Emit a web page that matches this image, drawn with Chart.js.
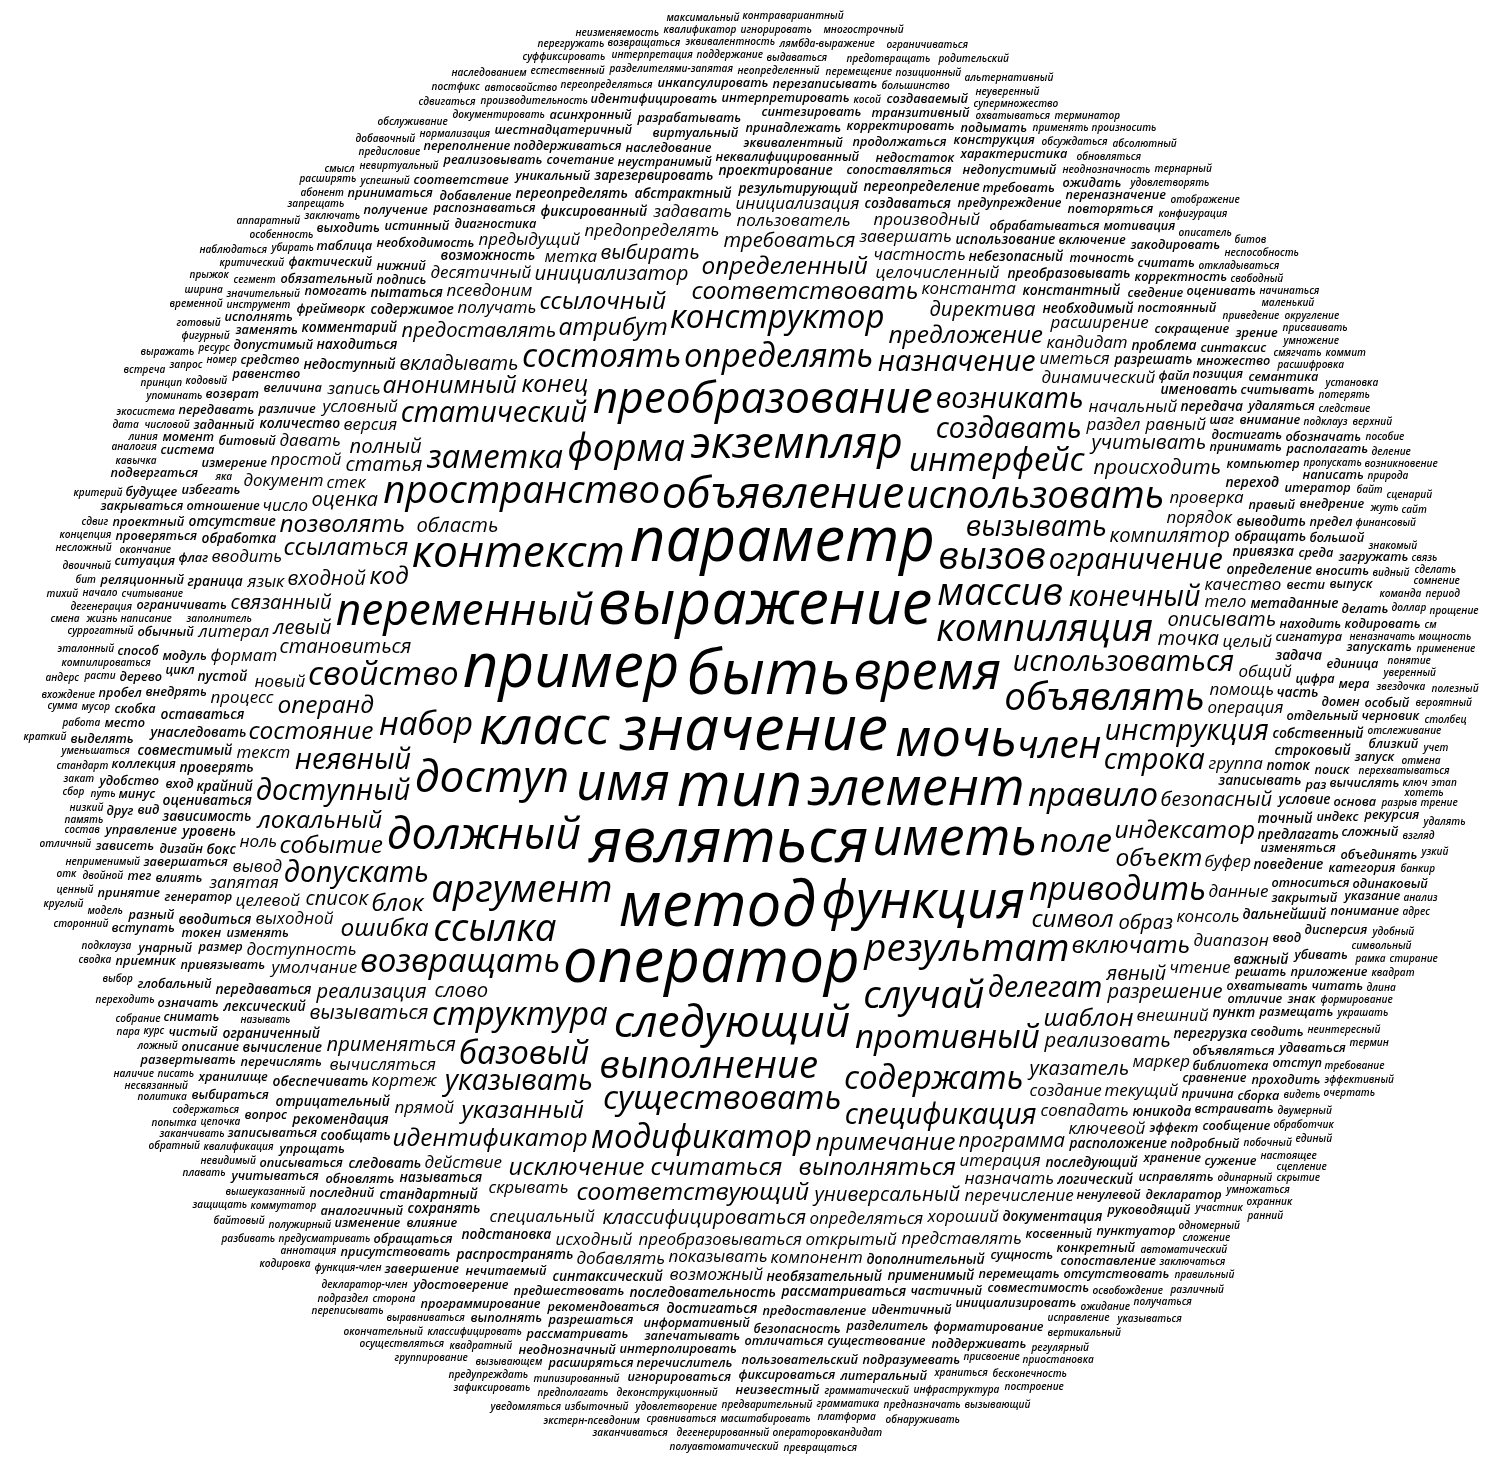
<!DOCTYPE html>
<html>
<head>
<meta charset="utf-8">
<script src="https://cdn.jsdelivr.net/npm/chart.js@4.4.1/dist/chart.umd.min.js"></script>
<style>
  html, body { margin: 0; padding: 0; background: #fff; }
  #wrap { width: 1504px; height: 1462px; }
</style>
</head>
<body>
<div id="wrap"><canvas id="cloud" width="1504" height="1462"></canvas></div>
<script>
// Word cloud: words grouped by frequency tier, laid out on a spiral, drawn through a scatter chart

// relative frequency of each tier (biggest first)
const tierWeights = [100, 82, 67, 56, 46, 38, 30, 22, 16, 10, 8, 3];

const tier1 = ['значение', 'тип', 'быть', 'являться', 'выражение', 'метод', 'параметр', 'пример', 'оператор'];
const tier2 = ['элемент', 'имя', 'время', 'функция', 'класс', 'мочь', 'иметь'];
const tier3 = ['объявление', 'экземпляр', 'следующий', 'переменный', 'преобразование', 'доступ', 'должный', 'контекст'];
const tier4 = ['аргумент', 'результат', 'компиляция', 'массив', 'пространство', 'вызов', 'форма', 'случай',
  'выполнение', 'использовать', 'объявлять', 'ссылка', 'член'];
const tier5 = ['противный', 'набор', 'существовать', 'интерфейс', 'правило', 'возвращать', 'структура', 'свойство',
  'определять', 'поле', 'содержать', 'заметка', 'модификатор', 'конструктор', 'приводить', 'базовый', 'состоять'];
const tier6 = ['статический', 'создавать', 'делегат', 'использоваться', 'ограничение', 'конечный', 'неявный',
  'спецификация', 'вызывать', 'доступный', 'указывать', 'допускать', 'строка', 'назначение', 'возникать', 'инструкция'];
const tier7 = ['блок', 'примечание', 'символ', 'конец', 'ошибка', 'атрибут', 'считаться', 'индексатор', 'код', 'операнд',
  'включать', 'соответствовать', 'соответствующий', 'локальный', 'предложение', 'событие', 'состояние', 'указанный',
  'объект', 'ссылаться', 'выполняться', 'шаблон', 'ссылочный', 'определенный', 'идентификатор', 'анонимный',
  'позволять', 'исключение'];
const tier8 = ['компилятор', 'реализация', 'образ', 'инициализатор', 'реализовать', 'входной', 'классифицироваться',
  'вкладывать', 'становиться', 'безопасный', 'список', 'точка', 'статья', 'вызываться', 'слово', 'универсальный',
  'предоставлять', 'область', 'явный', 'применяться', 'указатель', 'происходить', 'полный', 'директива', 'разрешение',
  'оценка', 'программа', 'левый', 'описывать', 'учитывать', 'требоваться', 'связанный', 'выбирать'];
const tier9 = ['создание', 'раздел', 'целочисленный', 'динамический', 'вычисляться', 'новый', 'определяться',
  'доступность', 'преобразовываться', 'выходной', 'получать', 'умолчание', 'операция', 'группа', 'константа', 'помощь',
  'кортеж', 'итерация', 'совпадать', 'начальный', 'версия', 'стек', 'консоль', 'текст', 'иметься', 'предопределять',
  'частность', 'порядок', 'прямой', 'скрывать', 'буфер', 'тело', 'пользователь', 'внешний', 'условный', 'проверка',
  'чтение', 'открытый', 'назначать', 'псевдоним', 'кандидат', 'процесс', 'данные', 'целевой', 'качество', 'целый',
  'метка', 'действие', 'завершать', 'специальный', 'показывать', 'формат', 'диапазон', 'простой', 'задавать', 'ноль',
  'вывод', 'общий', 'язык', 'компонент', 'хороший', 'исходный', 'инициализация', 'перечисление', 'десятичный',
  'расширение', 'литерал', 'равный', 'производный', 'ключевой', 'документ', 'текущий', 'запятая', 'маркер', 'число',
  'запись', 'предыдущий', 'добавлять', 'давать', 'возможный', 'вводить', 'представлять'];
const tier10 = ['определение', 'необходимый', 'абстрактный', 'результирующий', 'фиксированный', 'необязательный',
  'проверять', 'записывать', 'константный', 'небезопасный', 'возможность', 'содержимое', 'недоступный', 'крайний',
  'пустой', 'называться', 'дополнительный', 'последующий', 'отрицательный', 'последовательность', 'расположение',
  'преобразовывать', 'оцениваться', 'передаваться', 'оставаться', 'количество', 'унаследовать', 'разрешать',
  'зависимость', 'обеспечивать', 'использование', 'создаваться', 'обработка', 'перегрузка', 'точный', 'привязка',
  'находиться', 'стандартный', 'подстановка', 'проектирование', 'предлагать', 'синтаксический', 'зарезервировать',
  'метаданные', 'поведение', 'лексический', 'поток', 'ограниченный', 'рекомендация', 'рассматриваться', 'обращать',
  'переопределять', 'отсутствие', 'документация', 'совместимый', 'дальнейший', 'строковый', 'переопределение',
  'собственный', 'распространять', 'пытаться', 'уровень', 'логический', 'юникода', 'часть', 'важный', 'именовать',
  'комментарий', 'выводить', 'вычисление', 'бокс', 'условие', 'следовать', 'задача', 'граница', 'вводиться', 'переход',
  'сообщать', 'сохранять', 'передача', 'применимый', 'проблема', 'достигаться', 'пункт'];
const tier11 = ['сигнатура', 'неквалифицированный', 'изменять', 'неустранимый', 'изменяться', 'диагностика',
  'перечислять', 'охватывать', 'объявляться', 'отдельный', 'предоставление', 'принимать', 'файл', 'обрабатываться',
  'различие', 'решать', 'отношение', 'привязывать', 'ограничивать', 'сопоставляться', 'завершаться', 'относиться',
  'находить', 'предшествовать', 'компьютер', 'распознаваться', 'закрытый', 'правый', 'цифра', 'достигать', 'величина',
  'внедрять', 'предупреждение', 'генератор', 'сравнение', 'необходимость', 'библиотека', 'рекомендоваться', 'подпись',
  'модуль', 'размер', 'отличие', 'измерение', 'ненулевой', 'эффект', 'вести', 'косвенный', 'битовый', 'нечитаемый',
  'причина', 'информативный', 'эквивалентный', 'раз', 'ввод', 'нижний', 'цикл', 'вход', 'наследование', 'сущность',
  'шаг', 'точность', 'уникальный', 'обновлять', 'дизайн', 'влияние', 'безопасность', 'частичный', 'поиск', 'идентичный',
  'сокращение', 'позиция', 'недостаток', 'сочетание', 'виртуальный', 'постоянный', 'фреймворк', 'избегать', 'включение',
  'обычный', 'влиять', 'перемещать', 'флаг', 'токен', 'хранение', 'сведение', 'индекс', 'домен', 'среда', 'запечатывать',
  'принадлежать', 'обращаться', 'добавление', 'равенство', 'продолжаться', 'разрешаться', 'упрощать', 'разделитель',
  'требовать', 'отличаться', 'встраивать', 'поддерживаться', 'множество', 'истинный', 'помогать', 'подробный',
  'коллекция', 'аналогичный', 'недопустимый', 'разрабатывать', 'сводить', 'размещать', 'допустимый', 'единица',
  'средство', 'интерполировать', 'руководящий', 'корректировать', 'синтезировать', 'заданный', 'исправлять', 'убивать',
  'внимание', 'существование', 'удостоверение', 'рассматривать', 'вычислять', 'пользовательский', 'итератор',
  'обязательный', 'конкретный', 'синтаксис', 'инициализировать', 'последний', 'шестнадцатеричный', 'соответствие',
  'совместимость', 'присутствовать', 'программирование', 'корректность', 'реализовывать', 'характеристика',
  'управление', 'записываться', 'дисперсия', 'проверяться', 'основа', 'вносить', 'реляционный', 'приложение',
  'передавать', 'удаляться', 'хранилище', 'сообщение', 'интерпретировать', 'категория', 'пунктуатор', 'мера',
  'описываться', 'перечислитель', 'большой', 'форматирование', 'фактический', 'идентифицировать', 'внедрение',
  'глобальный', 'возврат', 'изменение', 'считывать', 'дерево', 'удобство', 'выпуск', 'декларатор', 'скобка',
  'повторяться', 'завершение', 'сопоставление', 'предел', 'означать', 'способ', 'минус', 'вид', 'вопрос', 'сложный',
  'знак', 'унарный', 'считать', 'выбираться', 'получение', 'заменять', 'описание', 'асинхронный', 'ситуация',
  'выполнять', 'сборка', 'объединять', 'запускать', 'запуск', 'снимать', 'разный', 'конструкция', 'проходить',
  'кодировать', 'фиксироваться', 'делать', 'располагать', 'проектный', 'написать', 'транзитивный', 'неоднозначный',
  'понимание', 'мотивация', 'подразумевать', 'семантика', 'таблица', 'система', 'закодировать', 'место', 'зависеть',
  'игнорироваться', 'переназначение', 'перезаписывать', 'инкапсулировать', 'поддерживать', 'отсутствовать', 'вступать',
  'чистый', 'приниматься', 'развертывать', 'обозначать', 'удаваться', 'учитываться', 'оценивать', 'подвергаться',
  'закрываться', 'загружать', 'черновик', 'пробел', 'исполнять', 'принятие', 'особый', 'переполнение', 'указание',
  'сужение', 'близкий', 'расширяться', 'отступ', 'рекурсия', 'читать', 'момент', 'литеральный', 'ожидать', 'выходить',
  'выделять', 'тег', 'приемник', 'зрение', 'будущее', 'одинаковый', 'друг', 'неизвестный', 'подымать', 'создаваемый'];
const tier12 = ['классифицировать', 'предусматривать', 'считывание', 'приведение', 'деконструкционный', 'значительный',
  'неопределенный', 'разделителями-запятая', 'компилироваться', 'неинтересный', 'пропускать', 'переопределяться',
  'перехватываться', 'квалификация', 'неприменимый', 'формирование', 'производительность', 'написание', 'отслеживание',
  'звездочка', 'суррогатный', 'кодовый', 'уменьшаться', 'подклауз', 'грамматический', 'яка', 'документировать',
  'называть', 'неоднозначность', 'содержаться', 'невиртуальный', 'типизированный', 'инструмент', 'номер', 'дегенерация',
  'заполнитель', 'вышеуказанный', 'предварительный', 'коммутатор', 'автоматический', 'окончание', 'побочный',
  'символьный', 'разрыв', 'декларатор-член', 'уверенный', 'выравниваться', 'неназначать', 'одинарный', 'нормализация',
  'расшифровка', 'числовой', 'успешный', 'полужирный', 'функция-член', 'видеть', 'финансовый', 'квадратный', 'расти',
  'косой', 'путь', 'большинство', 'рамка', 'присвоение', 'цепочка', 'охватываться', 'освобождение', 'исправление',
  'команда', 'перемещение', 'мусор', 'откладываться', 'видный', 'заключать', 'упоминать', 'удовлетворение', 'одномерный',
  'участник', 'понятие', 'двумерный', 'смягчать', 'обсуждаться', 'знакомый', 'вызывающем', 'эталонный', 'ресурс',
  'двойной', 'стандарт', 'сторона', 'ожидание', 'убирать', 'храниться', 'невидимый', 'жизнь', 'обработчик', 'украшать',
  'обновляться', 'выдаваться', 'удобный', 'отмена', 'байт', 'описатель', 'доллар', 'грамматика', 'конфигурация',
  'следствие', 'поддержание', 'работа', 'сегмент', 'фигурный', 'начало', 'ложный', 'низкий', 'супермножество',
  'предполагать', 'писать', 'ключ', 'применять', 'модель', 'переходить', 'вертикальный', 'кавычка', 'умножаться',
  'подклауза', 'позиционный', 'свободный', 'масштабировать', 'предотвращать', 'умножение', 'инфраструктура',
  'интерпретация', 'удовлетворять', 'собрание', 'автосвойство', 'естественный', 'хотеть', 'аннотация', 'курс',
  'предисловие', 'жуть', 'критический', 'настоящее', 'предупреждать', 'особенность', 'память', 'запрос', 'регулярный',
  'сравниваться', 'сложение', 'потерять', 'запрещать', 'взгляд', 'лямбда-выражение', 'экосистема', 'аналогия',
  'заканчивать', 'требование', 'вхождение', 'закат', 'избыточный', 'состав', 'заключаться', 'банкир', 'неуверенный',
  'двоичный', 'платформа', 'выбор', 'несвязанный', 'эквивалентность', 'предназначать', 'маленький', 'бесконечность',
  'квадрат', 'длина', 'вероятный', 'эффективный', 'присваивать', 'дегенерированный', 'природа', 'принцип', 'линия',
  'неспособность', 'несложный', 'установка', 'готовый', 'сбор', 'возвращаться', 'отображение', 'обслуживание',
  'операторовкандидат', 'экстерн-псевдоним', 'суффиксировать', 'окончательный', 'абонент', 'приостановка',
  'осуществляться', 'альтернативный', 'добавочный', 'отличный', 'термин', 'концепция', 'группирование', 'игнорировать',
  'начинаться', 'применение', 'округление', 'учет', 'сторонний', 'политика', 'расширять', 'подраздел', 'очертать',
  'выражать', 'переписывать', 'анализ', 'адрес', 'столбец', 'сдвигаться', 'критерий', 'бит', 'трение', 'зафиксировать',
  'квалификатор', 'возникновение', 'единый', 'аппаратный', 'терминатор', 'обнаруживать', 'верхний', 'получаться',
  'ограничиваться', 'многострочный', 'андерс', 'мощность', 'попытка', 'временной', 'сумма', 'охранник', 'родительский',
  'ценный', 'правильный', 'указываться', 'стирание', 'удалять', 'сцепление', 'сценарий', 'полуавтоматический', 'сдвиг',
  'уведомляться', 'контравариантный', 'узкий', 'наследованием', 'сомнение', 'сводка', 'деление', 'наблюдаться', 'пара',
  'заканчиваться', 'полезный', 'см', 'сделать', 'абсолютный', 'пособие', 'смена', 'неизменяемость', 'вызывающий',
  'произносить', 'превращаться', 'этап', 'перегружать', 'максимальный', 'плавать', 'выравнивание', 'дата', 'кодировка',
  'смысл', 'байтовый', 'обратный', 'битов', 'краткий', 'тернарный', 'построение', 'защищать', 'ширина', 'беспокоиться',
  'связь', 'встреча', 'ранний', 'квалифицированный', 'скрытие', 'сайт', 'переупорядочивать', 'различный', 'наличие',
  'постфикс', 'прощение', 'ассоциативность', 'тихий', 'период', 'разбивать', 'коммит', 'прыжок', 'круглый', 'отк'];

const tiers = [tier1, tier2, tier3, tier4, tier5, tier6, tier7, tier8, tier9, tier10, tier11, tier12];

const W = 1504, H = 1462;
const FONT = '"Open Sans", "Noto Sans", "DejaVu Sans", sans-serif';
const MIN_PX = 10, MAX_PX = 62;

function fontSize(weight) {
    const wMin = Math.min(...tierWeights), wMax = Math.max(...tierWeights);
    return MIN_PX + (weight - wMin) * (MAX_PX - MIN_PX) / (wMax - wMin);
}

// the smallest words get a heavier stroke so the outer ring stays as dark as the original
function fontFor(px) {
    const weight = px < 14 ? 600 : 400;
    return `italic ${weight} ${px.toFixed(2)}px ${FONT}`;
}

// flatten tiers into one sorted list, dropping duplicates
function buildWords() {
    const seen = new Set();
    const out = [];
    tiers.forEach((list, t) => {
        list.forEach(text => {
            if (seen.has(text)) return;
            seen.add(text);
            out.push({ text, weight: tierWeights[t] });
        });
    });
    return out;
}

// spiral layout inside an ellipse, bounding-box collision on an occupancy grid
function layoutWords(words) {
    const measure = document.createElement('canvas').getContext('2d');
    const grid = new Uint8Array(W * H);
    const cx = 752, cy = 734, rx = 749, ry = 731;
    const rMax = Math.max(rx, ry);
    const placed = [];
    const recentR = [];

    function inside(x, y) {
        const dx = (x - cx) / rx, dy = (y - cy) / ry;
        return dx * dx + dy * dy <= 1;
    }

    function fits(x0, y0, w, h) {
        if (x0 < 0 || y0 < 0 || x0 + w > W || y0 + h > H) return false;
        if (!inside(x0, y0) || !inside(x0 + w, y0) || !inside(x0, y0 + h) || !inside(x0 + w, y0 + h)) return false;
        for (let y = y0; y < y0 + h; y += 3) {
            const row = y * W;
            for (let x = x0; x < x0 + w; x += 3) if (grid[row + x]) return false;
        }
        for (let y = y0; y < y0 + h; y++) {
            const row = y * W;
            for (let x = x0; x < x0 + w; x++) if (grid[row + x]) return false;
        }
        return true;
    }

    function mark(x0, y0, w, h) {
        for (let y = y0; y < y0 + h; y++) grid.fill(1, y * W + x0, y * W + x0 + w);
    }

    words.forEach((wd, i) => {
        const px = fontSize(wd.weight);
        measure.font = fontFor(px);
        const m = measure.measureText(wd.text);
        const padX = Math.max(1.5, px * 0.06);
        const padY = Math.max(1, px * 0.05);
        // keep a minimum line box so rows of words breathe like the handwritten original
        const asc = Math.max(m.actualBoundingBoxAscent, px * 0.66);
        const desc = Math.max(m.actualBoundingBoxDescent, px * 0.14);
        const bw = Math.ceil(m.actualBoundingBoxLeft + m.actualBoundingBoxRight + 2 * padX);
        const bh = Math.ceil(asc + desc + 2 * padY);

        let r = recentR.length ? Math.max(0, Math.min(...recentR) - 30) : 0;
        let theta = i * 2.39996;
        while (r <= rMax) {
            const x0 = Math.round(cx + r * Math.cos(theta) - bw / 2);
            const y0 = Math.round(cy - r * Math.sin(theta) - bh / 2);
            if (fits(x0, y0, bw, bh)) {
                mark(x0, y0, bw, bh);
                placed.push({
                    x: x0 + padX + m.actualBoundingBoxLeft,
                    y: y0 + padY + asc,
                    text: wd.text,
                    px
                });
                recentR.push(r);
                if (recentR.length > 8) recentR.shift();
                return;
            }
            const dt = Math.min(0.25, 2.5 / Math.max(r, 1));
            theta += dt;
            r += 4 * dt / (2 * Math.PI);
        }
    });
    return placed;
}

const wordPlugin = {
    id: 'wordText',
    afterDatasetsDraw(chart) {
        const { ctx, scales: { x, y } } = chart;
        ctx.save();
        ctx.fillStyle = '#000';
        ctx.textAlign = 'left';
        ctx.textBaseline = 'alphabetic';
        chart.data.datasets[0].data.forEach(p => {
            ctx.font = fontFor(p.px);
            ctx.fillText(p.text, x.getPixelForValue(p.x), y.getPixelForValue(p.y));
        });
        ctx.restore();
    }
};

const placedWords = layoutWords(buildWords());

new Chart(document.getElementById('cloud'), {
    type: 'scatter',
    data: { datasets: [{ data: placedWords, pointRadius: 0, pointHoverRadius: 0 }] },
    options: {
        responsive: false,
        animation: false,
        events: [],
        layout: { padding: 0 },
        plugins: { legend: { display: false }, tooltip: { enabled: false } },
        scales: {
            x: { type: 'linear', min: 0, max: W, display: false },
            y: { type: 'linear', min: 0, max: H, reverse: true, display: false }
        }
    },
    plugins: [wordPlugin]
});
</script>
</body>
</html>
